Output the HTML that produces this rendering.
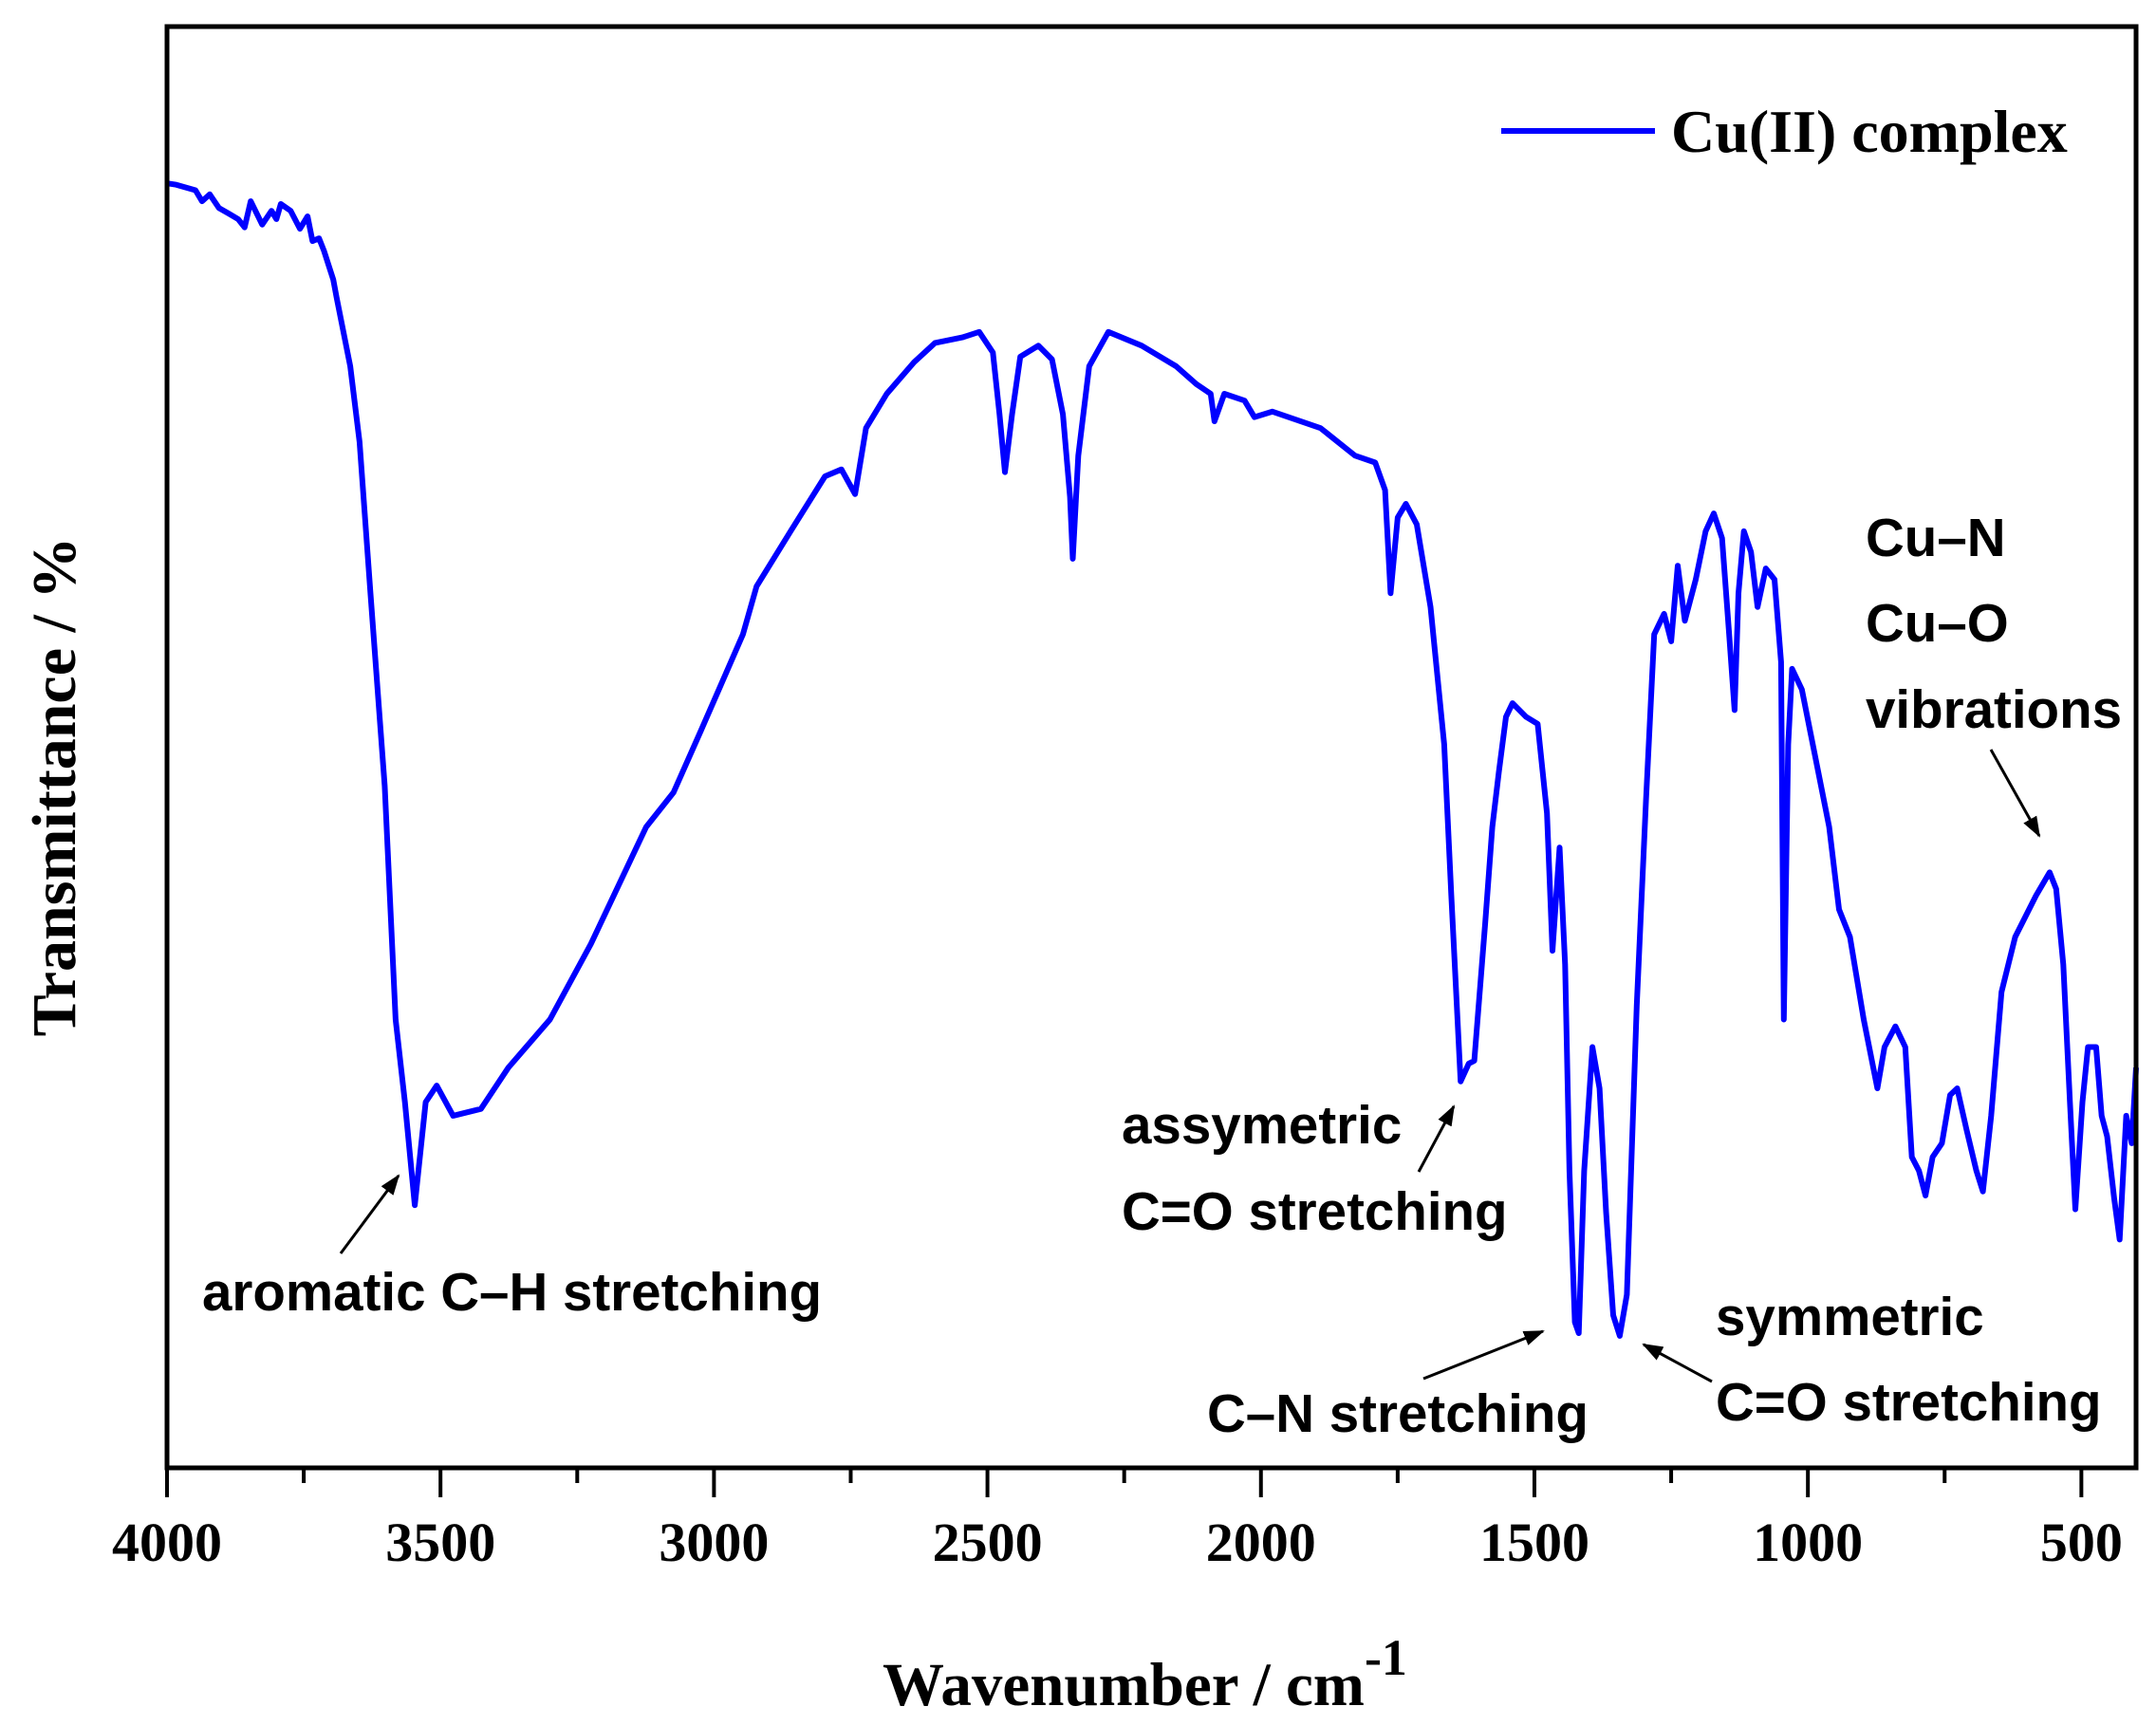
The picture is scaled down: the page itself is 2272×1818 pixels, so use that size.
<!DOCTYPE html>
<html><head><meta charset="utf-8">
<style>
html,body{margin:0;padding:0;background:#fff;}
svg{display:block;}
.serif{font-family:"Liberation Serif",serif;font-weight:bold;}
.sans{font-family:"Liberation Sans",sans-serif;font-weight:bold;}
</style></head>
<body>
<svg id="chart" width="2272" height="1818" viewBox="0 0 2272 1818" xmlns="http://www.w3.org/2000/svg">
<defs>
<marker id="ah" markerWidth="22" markerHeight="16" refX="20" refY="8" orient="auto" markerUnits="userSpaceOnUse" viewBox="0 0 22 16">
<path d="M0,0 L22,8 L0,16 z" fill="#000"/>
</marker>
</defs>
<g id="plot"></g>
<g id="axes"></g>
<text class="serif" font-size="66" text-anchor="middle" transform="translate(79,829) rotate(-90)">Transmittance / %</text>
<text class="serif" font-size="65" x="930" y="1797">Wavenumber / cm<tspan dy="-32" font-size="54">-1</tspan></text>
<g>
<line x1="1582" y1="138" x2="1744" y2="138" stroke="#0000ff" stroke-width="6"/>
<text class="serif" x="1761" y="160" font-size="64">Cu(II) complex</text>
</g>
<g class="sans" font-size="56.5">
<text x="213" y="1381">aromatic C–H stretching</text>
<line x1="359" y1="1321" x2="420" y2="1239" stroke="#000" stroke-width="3" marker-end="url(#ah)"/>
<text x="1182" y="1205">assymetric</text>
<text x="1182" y="1296">C=O stretching</text>
<line x1="1495" y1="1235" x2="1532" y2="1166" stroke="#000" stroke-width="3" marker-end="url(#ah)"/>
<text x="1272" y="1509">C–N stretching</text>
<line x1="1500" y1="1453" x2="1626" y2="1403" stroke="#000" stroke-width="3" marker-end="url(#ah)"/>
<text x="1808" y="1407">symmetric</text>
<text x="1808" y="1497">C=O stretching</text>
<line x1="1804" y1="1456" x2="1732" y2="1417" stroke="#000" stroke-width="3" marker-end="url(#ah)"/>
<text x="1966" y="586">Cu–N</text>
<text x="1966" y="676">Cu–O</text>
<text x="1966" y="767">vibrations</text>
<line x1="2098" y1="790" x2="2149" y2="881" stroke="#000" stroke-width="3" marker-end="url(#ah)"/>
</g>
</svg>
<script>
const wavenumbers = [4000,3983,3948,3936,3922,3905,3887,3870,3858,3847,3826,3809,3800,3792,3774,3757,3743,3734,3722,3713,3696,3690,3665,3648,3628,3602,3582,3565,3547,3527,3507,3477,3426,3376,3300,3225,3124,3074,3024,2947,2922,2860,2797,2767,2742,2722,2684,2634,2596,2546,2515,2490,2478,2468,2455,2440,2407,2382,2362,2349,2344,2334,2314,2279,2218,2155,2118,2092,2085,2067,2030,2012,1979,1891,1828,1791,1773,1763,1750,1735,1715,1690,1665,1652,1635,1620,1610,1590,1577,1565,1552,1540,1515,1494,1477,1467,1454,1444,1436,1426,1419,1409,1394,1381,1369,1356,1344,1331,1313,1296,1281,1263,1250,1238,1225,1205,1187,1172,1157,1144,1134,1127,1117,1104,1092,1077,1061,1049,1044,1036,1029,1011,981,961,943,923,898,873,860,840,822,810,797,785,772,755,740,727,710,692,680,665,646,621,583,558,546,533,521,511,498,488,473,463,453,440,430,418,408,400];
const transmittance = [93.4,93.3,92.9,92.1,92.6,91.6,91.2,90.8,90.2,92.1,90.4,91.4,90.8,91.9,91.4,90.1,91.0,89.2,89.4,88.5,86.4,85.1,80.1,74.6,63.6,49.6,32.6,26.6,19.1,26.6,27.8,25.6,26.1,29.1,32.6,38.1,46.6,49.1,53.6,60.6,64.1,68.1,72.1,72.6,70.8,75.6,78.1,80.4,81.8,82.2,82.6,81.1,76.6,72.4,76.6,80.8,81.6,80.6,76.6,70.6,66.1,73.6,80.1,82.6,81.6,80.1,78.8,78.1,76.1,78.1,77.6,76.4,76.8,75.6,73.6,73.1,71.1,63.6,69.1,70.1,68.6,62.6,52.6,41.6,28.1,29.4,29.6,39.6,46.6,50.6,54.6,55.6,54.6,54.1,47.6,37.6,45.1,36.6,21.6,10.6,9.8,21.6,30.6,27.6,18.6,11.1,9.6,12.6,33.6,48.6,60.6,62.1,60.1,65.6,61.6,64.6,68.1,69.4,67.6,60.6,55.1,63.6,68.1,66.6,62.6,65.4,64.6,58.6,32.6,52.6,58.1,56.6,50.6,46.6,40.6,38.6,32.6,27.6,30.6,32.1,30.6,22.6,21.6,19.8,22.6,23.6,27.1,27.6,24.6,21.6,20.1,25.6,34.6,38.6,41.6,43.3,42.1,36.6,26.6,18.8,26.6,30.6,30.6,25.6,24.1,19.6,16.6,25.6,23.6,29.1];
const xTickValues = [4000,3500,3000,2500,2000,1500,1000,500];
const xMinorTicks = [3750,3250,2750,2250,1750,1250,750];
const xTickLabels = ["4000","3500","3000","2500","2000","1500","1000","500"];

const L=176,R=2251,T=28,B=1547;
const xMax=4000,xMin=400,yMin=0,yMax=104.8;
const xs=v=>L+(xMax-v)/(xMax-xMin)*(R-L);
const ys=v=>B-(v-yMin)/(yMax-yMin)*(B-T);
const NS="http://www.w3.org/2000/svg";
const plot=document.getElementById('plot');
const axes=document.getElementById('axes');

let d="";
for(let i=0;i<wavenumbers.length;i++){
  d+=(i?"L":"M")+xs(wavenumbers[i]).toFixed(1)+","+ys(transmittance[i]).toFixed(1);
}
const path=document.createElementNS(NS,'path');
path.setAttribute('d',d);
path.setAttribute('fill','none');
path.setAttribute('stroke','#0000ff');
path.setAttribute('stroke-width','6');
path.setAttribute('stroke-linejoin','round');


plot.appendChild(path);

const frame=document.createElementNS(NS,'rect');
frame.setAttribute('x',L);frame.setAttribute('y',T);
frame.setAttribute('width',R-L);frame.setAttribute('height',B-T);
frame.setAttribute('fill','none');frame.setAttribute('stroke','#000');frame.setAttribute('stroke-width','5');


axes.appendChild(frame);

xTickValues.forEach((v,i)=>{
  const t=document.createElementNS(NS,'line');
  t.setAttribute('x1',xs(v));t.setAttribute('x2',xs(v));
  t.setAttribute('y1',B);t.setAttribute('y2',B+31);
  t.setAttribute('stroke','#000');t.setAttribute('stroke-width','4');
  
  
  axes.appendChild(t);
  const lb=document.createElementNS(NS,'text');
  lb.setAttribute('x',xs(v));lb.setAttribute('y',1645);
  lb.setAttribute('text-anchor','middle');lb.setAttribute('font-size','58');
  lb.setAttribute('class','serif');
  lb.textContent=xTickLabels[i];
  
  
  axes.appendChild(lb);
});
xMinorTicks.forEach(v=>{
  const t=document.createElementNS(NS,'line');
  t.setAttribute('x1',xs(v));t.setAttribute('x2',xs(v));
  t.setAttribute('y1',B);t.setAttribute('y2',B+16);
  t.setAttribute('stroke','#000');t.setAttribute('stroke-width','4');
  
  
  axes.appendChild(t);
});
</script>
</body></html>
